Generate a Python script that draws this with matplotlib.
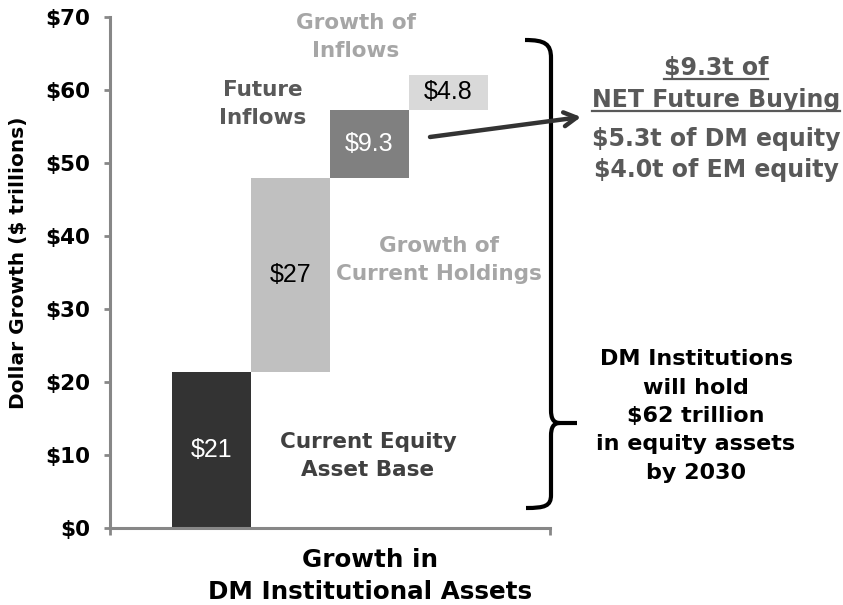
import matplotlib
matplotlib.use("Agg")
import matplotlib.pyplot as plt
from matplotlib.path import Path
from matplotlib.patches import PathPatch

# Data
steps = ["Current Equity Asset Base", "Growth of Current Holdings", "Future Inflows", "Growth of Inflows"]
values = [21.4, 26.6, 9.3, 4.8]
value_labels = ["$21", "$27", "$9.3", "$4.8"]
bar_colors = ["#333333", "#c0c0c0", "#808080", "#d9d9d9"]
label_colors = ["white", "black", "white", "black"]
y_ticks = [0, 10, 20, 30, 40, 50, 60, 70]

bold = "DejaVu Sans"
plain = "Liberation Sans"

fig = plt.figure(figsize=(8.43, 6.05), dpi=100)
ax = fig.add_axes([110 / 843, 77 / 605, 440 / 843, 511 / 605])

# waterfall: each bar starts where the previous one ended
bottoms = []
run = 0
for v in values:
    bottoms.append(run)
    run += v
xs = list(range(len(values)))
ax.bar(xs, values, bottom=bottoms, width=1.0, color=bar_colors, edgecolor="none")
for x, b, v, lab, c in zip(xs, bottoms, values, value_labels, label_colors):
    ax.text(x, b + v / 2, lab, ha="center", va="center", color=c,
            fontsize=18, family=plain)

ax.set_ylim(0, 70)
ax.set_xlim(-1.285, 4.285)
ax.set_yticks(y_ticks)
ax.set_yticklabels([f"${t}" for t in y_ticks], fontsize=15.5, fontweight="bold", family=bold)
ax.set_xticks([-1.285, 4.285])
ax.set_xticklabels(["", ""])
ax.tick_params(axis="y", length=4.3, width=2, color="#878787", pad=10)
ax.tick_params(axis="x", length=5, width=2, color="#878787")
for s in ["top", "right"]:
    ax.spines[s].set_visible(False)
for s in ["left", "bottom"]:
    ax.spines[s].set_color("#878787")
    ax.spines[s].set_linewidth(2.2)

ax.set_ylabel("Dollar Growth ($ trillions)", fontsize=14.5, fontweight="bold", family=bold)
ax.yaxis.set_label_coords(-0.186, 0.519)
ax.set_xlabel("Growth in\nDM Institutional Assets", fontsize=17.7, fontweight="bold",
              family=bold, linespacing=1.42)
ax.xaxis.set_label_coords(0.59, -0.040)

# overlay in pixel coordinates for the annotations
ov = fig.add_axes([0, 0, 1, 1], facecolor="none")
ov.set_xlim(0, 843)
ov.set_ylim(605, 0)
ov.axis("off")

kw = dict(ha="center", va="center", fontsize=15.5, fontweight="bold", family=bold,
          linespacing=1.5)
ov.text(356, 37, "Growth of\nInflows", color="#a6a6a6", **kw)
ov.text(263, 104, "Future\nInflows", color="#595959", **kw)
ov.text(439, 260, "Growth of\nCurrent Holdings", color="#a6a6a6", **kw)
ov.text(368, 456, "Current Equity\nAsset Base", color="#404040", **kw)

kw2 = dict(ha="center", va="center", fontsize=17, fontweight="bold", family=bold, color="#595959")
t1 = ov.text(716, 68, "$9.3t of", **kw2)
t2 = ov.text(716, 100, "NET Future Buying", **kw2)
ov.text(716, 139, "$5.3t of DM equity", **kw2)
ov.text(716, 170, "$4.0t of EM equity", **kw2)

ov.text(696, 416, "DM Institutions\nwill hold\n$62 trillion\nin equity assets\nby 2030",
        ha="center", va="center", fontsize=16, fontweight="bold", family=bold,
        color="black", linespacing=1.52)

# underlines
fig.canvas.draw()
r = fig.canvas.get_renderer()
for t, yy in [(t1, 79), (t2, 111)]:
    bb = t.get_window_extent(r)
    ov.plot([bb.x0, bb.x1], [yy, yy], color="#595959", lw=1.6)

# brace
top = Path([(525, 40), (545, 40), (551, 44), (551, 58), (551, 410),
            (551, 418), (553, 423), (560, 423), (577, 423)],
           [Path.MOVETO, Path.CURVE4, Path.CURVE4, Path.CURVE4, Path.LINETO,
            Path.CURVE4, Path.CURVE4, Path.CURVE4, Path.LINETO])
bot = Path([(560, 423), (553, 423), (551, 428), (551, 436), (551, 495),
            (551, 506), (545, 508), (526, 508)],
           [Path.MOVETO, Path.CURVE4, Path.CURVE4, Path.CURVE4, Path.LINETO,
            Path.CURVE4, Path.CURVE4, Path.CURVE4])
for p in [top, bot]:
    ov.add_patch(PathPatch(p, fill=False, lw=3, color="black", capstyle="butt"))

# arrow
ov.annotate("", xy=(581, 117), xytext=(430, 137),
            arrowprops=dict(arrowstyle="->,head_length=0.9,head_width=0.5",
                            lw=3.2, color="#333333", shrinkA=0, shrinkB=0))

fig.savefig("out.png", dpi=100)
